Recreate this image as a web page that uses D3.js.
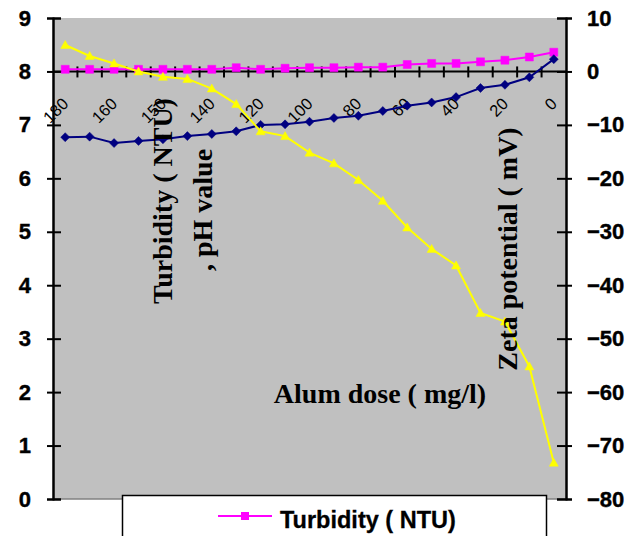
<!DOCTYPE html>
<html><head><meta charset="utf-8">
<script src="https://cdn.jsdelivr.net/npm/d3@7"></script>
<style>html,body{margin:0;padding:0;background:#fff;} svg{display:block;}</style>
</head><body>
<svg id="c" width="636" height="536"></svg>
<script>
const categories = [180,170,160,155,150,145,140,130,120,110,100,90,80,70,60,50,40,30,20,10,0];
const turbidity = [8.04,8.04,8.04,8.04,8.04,8.04,8.04,8.07,8.04,8.06,8.07,8.07,8.08,8.08,8.13,8.15,8.15,8.18,8.21,8.27,8.36];
const pH = [6.77,6.78,6.66,6.70,6.73,6.79,6.83,6.88,7.00,7.01,7.06,7.13,7.17,7.26,7.36,7.42,7.52,7.69,7.75,7.89,8.23];
const zeta = [4.95,2.9,1.5,0,-1,-1.4,-3.2,-6.1,-11.2,-12.1,-15.2,-17.2,-20.3,-24.2,-29.2,-33.2,-36.3,-45.2,-46.8,-55.2,-73.2];
const leftTicks = [0,1,2,3,4,5,6,7,8,9];
const rightTicks = [-80,-70,-60,-50,-40,-30,-20,-10,0,10];
const shownLabels = [180,160,150,140,120,100,80,60,40,20,0];

const svg = d3.select("#c");
const L = 53, R = 566, T = 18, B = 499;
const x = d3.scaleBand().domain(categories).range([L, R]);
const cx = c => x(c) + x.bandwidth()/2;
const yL = d3.scaleLinear().domain([0,9]).range([B,T]);
const yR = d3.scaleLinear().domain([-80,10]).range([B,T]);

// plot area
svg.append("rect").attr("x",L).attr("y",T).attr("width",R-L).attr("height",B-T).attr("fill","#C0C0C0");
svg.append("line").attr("x1",L).attr("x2",R).attr("y1",B).attr("y2",B).attr("stroke","#808080").attr("stroke-width",1.5);

// left axis (outer + inner ticks)
svg.append("g").attr("transform",`translate(${L},0)`)
  .call(d3.axisLeft(yL).tickValues(leftTicks).tickSize(6).tickPadding(16).tickFormat(d3.format("d")));
svg.append("g").attr("transform",`translate(${L},0)`)
  .call(d3.axisRight(yL).tickValues(leftTicks).tickSize(8).tickFormat(""));
// right axis
svg.append("g").attr("transform",`translate(${R},0)`)
  .call(d3.axisRight(yR).tickValues(rightTicks).tickSize(6).tickPadding(15).tickFormat(d3.format("d")));
svg.append("g").attr("transform",`translate(${R},0)`)
  .call(d3.axisLeft(yR).tickValues(rightTicks).tickSize(9).tickFormat(""));
svg.selectAll(".domain").attr("stroke","#000").attr("stroke-width",2);
svg.selectAll(".tick line").attr("stroke","#000").attr("stroke-width",2);
svg.selectAll(".tick text").attr("font-family","Liberation Sans, Arial, sans-serif")
  .attr("font-weight","bold").attr("font-size","22px").attr("fill","#000")
  .attr("stroke","#000").attr("stroke-width",0.4);

// category axis at zeta = 0
const y0 = yR(0);
svg.append("line").attr("x1",L).attr("x2",R).attr("y1",y0).attr("y2",y0).attr("stroke","#000").attr("stroke-width",2);
const bounds = categories.map(c => x(c)).concat([R]).slice(1, -1);
svg.append("g").selectAll("line").data(bounds).join("line")
  .attr("x1",d=>d).attr("x2",d=>d).attr("y1",y0-5).attr("y2",y0+6)
  .attr("stroke","#000").attr("stroke-width",2);
svg.append("g").selectAll("text").data(shownLabels).join("text")
  .attr("transform",d=>`translate(${cx(d)},${y0+29}) rotate(-45)`)
  .attr("text-anchor","end").attr("dominant-baseline","central")
  .attr("font-family","Liberation Sans, Arial, sans-serif").attr("font-size","16.5px")
  .text(d=>d);

// series
function drawSeries(vals, yScale, color, marker){
  const pts = categories.map((c,i)=>[cx(c), yScale(vals[i])]);
  svg.append("path").attr("d", d3.line()(pts)).attr("fill","none").attr("stroke",color).attr("stroke-width",2);
  svg.append("g").selectAll("path").data(pts).join("path")
    .attr("transform",d=>`translate(${d[0]},${d[1]})`).attr("d",marker).attr("fill",color).attr("stroke",color).attr("stroke-width",0.5);
}
const sq = "M-4,-4H4V4H-4Z";
const dia = "M0,-4.5L4.5,0L0,4.5L-4.5,0Z";
const tri = "M0,-4.5L4.5,3.5L-4.5,3.5Z";
drawSeries(turbidity, yL, "#FF00FF", sq);
drawSeries(pH, yL, "#000080", dia);
drawSeries(zeta, yR, "#FFFF00", tri);

// in-plot titles
const serif = "Liberation Serif, Times New Roman, serif";
svg.append("text").attr("transform","translate(172,201) rotate(-90)").attr("text-anchor","middle")
  .attr("font-family",serif).attr("font-weight","bold").attr("font-size","28px").text("Turbidity ( NTU)");
svg.append("text").attr("transform","translate(212,210) rotate(-90)").attr("text-anchor","middle")
  .attr("font-family",serif).attr("font-weight","bold").attr("font-size","28px").text(", pH value");
svg.append("text").attr("transform","translate(517,249) rotate(-90)").attr("text-anchor","middle")
  .attr("font-family",serif).attr("font-weight","bold").attr("font-size","28px").text("Zeta potential ( mV)");
svg.append("text").attr("x",380).attr("y",403).attr("text-anchor","middle")
  .attr("font-family",serif).attr("font-weight","bold").attr("font-size","28px").text("Alum dose ( mg/l)");

// legend
const lg = svg.append("g");
lg.append("rect").attr("x",122.5).attr("y",495.5).attr("width",424).attr("height",50).attr("fill","#fff").attr("stroke","#000").attr("stroke-width",1.5);
lg.append("line").attr("x1",218).attr("x2",272).attr("y1",516).attr("y2",516).attr("stroke","#FF00FF").attr("stroke-width",2);
lg.append("path").attr("transform","translate(245,516)").attr("d",sq).attr("fill","#FF00FF");
lg.append("text").attr("x",280).attr("y",528).attr("font-family","Liberation Sans, Arial, sans-serif")
  .attr("font-weight","bold").attr("font-size","23.5px").attr("stroke","#000").attr("stroke-width",0.3)
  .text("Turbidity ( NTU)");
</script>
</body></html>
